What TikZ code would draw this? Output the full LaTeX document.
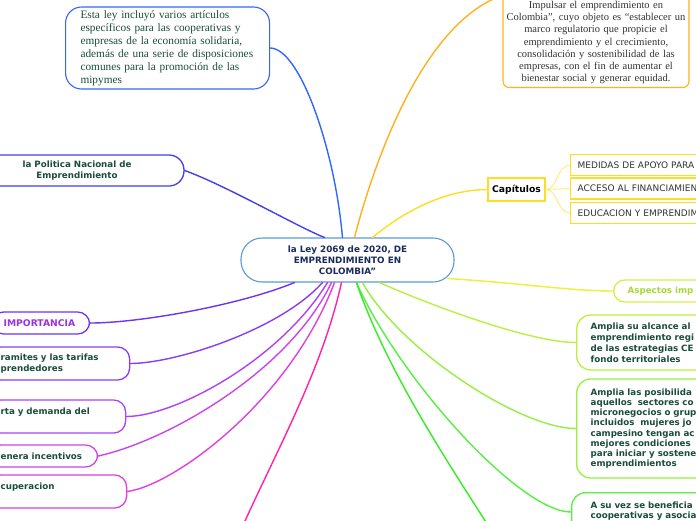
\documentclass[tikz,border=0pt]{standalone}
\usepackage{fontspec}
\setmainfont{Liberation Serif}
\newfontfamily\vsans{DejaVu Sans}
\usetikzlibrary{calc}
\definecolor{txtgreen}{HTML}{1B4D3B}
\definecolor{navy}{HTML}{1C2B5C}
\definecolor{cblue}{HTML}{5B9BD5}
\definecolor{cA}{HTML}{3366FF}
\definecolor{cB}{HTML}{4040EE}
\definecolor{cC}{HTML}{6A36F5}
\definecolor{cD}{HTML}{8A3CF5}
\definecolor{cE}{HTML}{AE42F5}
\definecolor{cF}{HTML}{CC44EE}
\definecolor{cG}{HTML}{E040E0}
\definecolor{cH}{HTML}{FF22AA}
\definecolor{cOr}{HTML}{FFB21E}
\definecolor{cYe}{HTML}{FFDD22}
\definecolor{cYeL}{HTML}{FFEA80}
\definecolor{cAsp}{HTML}{EEF035}
\definecolor{cAspB}{HTML}{D2F04A}
\definecolor{cAspT}{HTML}{A8D838}
\definecolor{cR1}{HTML}{BBF040}
\definecolor{cR2}{HTML}{96F040}
\definecolor{cR3}{HTML}{55F040}
\definecolor{cR4}{HTML}{33EE22}
\definecolor{impT}{HTML}{9933DD}
\definecolor{dgray}{HTML}{333333}
\begin{document}
\begin{tikzpicture}[x=1pt,y=-1pt,
  bfont/.style={font=\vsans\bfseries\fontsize{8.7}{11}\selectfont},
  conn/.style={line width=1.4pt, line cap=round},
  subconn/.style={line width=0.9pt, draw=cYeL},
  lnode/.style={draw=#1, line width=1.3pt, fill=white, rounded corners=12pt,
    anchor=west, inner xsep=12pt, inner ysep=2pt, align=left, bfont, text=txtgreen},
  rnode/.style={draw=#1, line width=1.3pt, fill=white, rounded corners=14pt,
    anchor=west, inner xsep=14pt, inner ysep=2pt, text width=150pt, align=left, bfont, text=txtgreen},
  subbox/.style={draw=cYe, line width=1.3pt, fill=white, anchor=west, text width=150pt,
    inner xsep=7pt, inner ysep=2pt, minimum height=21pt, align=left,
    font=\vsans\fontsize{9}{10}\selectfont, text=dgray}
]
\useasboundingbox (0,0) rectangle (696,520);
\clip (0,0) rectangle (696,520);
\fill[white] (0,0) rectangle (696,520);

% central node
\node[draw=cblue, line width=1.1pt, fill=white, rounded corners=21pt, minimum width=213pt,
  minimum height=44pt, inner sep=2pt, align=center,
  font=\vsans\bfseries\fontsize{8.8}{11}\selectfont, text=navy] (c) at (347.5,260)
  {la Ley 2069 de 2020, DE\\EMPRENDIMIENTO EN\\COLOMBIA”};

% top-left
\node[draw=cA, line width=1.1pt, fill=white, rounded corners=16pt, anchor=west,
  text width=174pt, inner xsep=15pt, inner ysep=2pt, minimum height=82pt, align=left,
  font=\fontsize{11.3}{13}\selectfont, text=txtgreen] (tl) at (65,48)
  {\mbox{Esta ley incluyó varios artículos}\\\mbox{específicos para las cooperativas y}\\\mbox{empresas de la economía solidaria,}\\\mbox{además de una serie de disposiciones}\\\mbox{comunes para la promoción de las}\\\mbox{mipymes}};

% top-right
\node[draw=cOr, line width=1.1pt, fill=white, rounded corners=6pt, anchor=south,
  text width=180pt, inner xsep=3pt, inner ysep=3.5pt, align=center,
  font=\fontsize{10.5}{12.2}\selectfont, text=dgray] (ob) at (596,88)
  {\rule{0pt}{45pt}Impulsar el emprendimiento en\\Colombia”, cuyo objeto es “establecer un\\marco regulatorio que propicie el\\emprendimiento y el crecimiento,\\consolidación y sostenibilidad de las\\empresas, con el fin de aumentar el\\bienestar social y generar equidad.};

% la Politica
\node[draw=cB, line width=1.3pt, fill=white, rounded corners=15pt, minimum width=214pt,
  minimum height=31pt, inner sep=2pt, align=center, bfont, text=txtgreen] (lp) at (77,170.5)
  {la Politica Nacional de\\Emprendimiento};

% Capitulos
\node[draw=cYe, line width=1.3pt, fill=white, minimum width=57pt, minimum height=23pt,
  inner sep=2pt, font=\vsans\bfseries\fontsize{9.2}{11}\selectfont, text=black] (cap) at (516.5,189.5) {Capítulos};
\node[subbox] (s1) at (570,165) {MEDIDAS DE APOYO PARA};
\node[subbox] (s2) at (570,188.5) {ACCESO AL FINANCIAMIEN};
\node[subbox] (s3) at (570,213) {EDUCACION Y EMPRENDIM};

% right nodes
\node[draw=cAspB, line width=1.3pt, fill=white, rounded corners=11pt, anchor=west,
  text width=100pt, inner xsep=14pt, inner ysep=2pt, minimum height=22pt, align=left,
  bfont, text=cAspT] (asp) at (613,291) {Aspectos imp};
\node[rnode=cR1, minimum height=55pt] (r1) at (576,342.5)
  {Amplia su alcance al\\emprendimiento regi\\de las estrategias CE\\fondo territoriales};
\node[rnode=cR2, minimum height=99pt, font=\vsans\bfseries\fontsize{8.7}{10.2}\selectfont] (r2) at (576,428.5)
  {Amplia las posibilida\\aquellos\ \ sectores co\\micronegocios o grup\\incluidos\ \ mujeres jo\\campesino tengan ac\\mejores condiciones\\para iniciar y sostene\\emprendimientos};
\node[rnode=cR3, anchor=north west, inner xsep=19pt, inner ysep=9.5pt, font=\vsans\bfseries\fontsize{8.7}{10}\selectfont] (r3) at (571,492)
  {A su vez se beneficia\\cooperativas y asocia\rule[-40pt]{0pt}{0pt}};

% left nodes
\node[lnode=cC, text width=74pt, minimum height=22pt, text=impT,
  font=\vsans\bfseries\fontsize{9.2}{11}\selectfont] (imp) at (-9,323) {IMPORTANCIA};
\node[lnode=cD, text width=117pt, minimum height=33pt] (tra) at (-12,363.5)
  {\mbox{ramites y las tarifas}\\\mbox{prendedores}};
\node[lnode=cE, text width=113pt, minimum height=33pt] (dem) at (-12,416.5)
  {\mbox{rta y demanda del}\\\mbox{}};
\node[lnode=cF, text width=85pt, minimum height=22pt] (inc) at (-12,456)
  {\mbox{enera incentivos}};
\node[lnode=cG, text width=114pt, minimum height=33pt] (rec) at (-12,491.5)
  {\mbox{cuperacion}\\\mbox{}};

% free ends of off-canvas branches
\coordinate (pk) at (228,560);
\coordinate (gb) at (510,560);

% connectors
\draw[conn, cA] ($(c.north west)+(102,0)$) .. controls (335,150) and (300,48) .. (tl.east);
\draw[conn, cB] ($(c.north west)+(84,0)$) .. controls (300,228) and (225,185) .. (lp.east);
\draw[conn, cOr] ($(c.north west)+(114,0)$) .. controls (380,140) and (430,20) .. ($(ob.north west)!0.28!(ob.south west)$);
\draw[conn, cYe] ($(c.north west)+(132,0)$) .. controls (400,215) and (440,190) .. (cap.west);
\draw[subconn] (cap.east) .. controls (558,189.5) and (557,165) .. (s1.west);
\draw[subconn] (cap.east) -- (s2.west);
\draw[subconn] (cap.east) .. controls (558,189.5) and (557,213) .. (s3.west);

\draw[conn, cC] ($(c.south west)+(54,0)$) .. controls (240,305) and (140,323) .. (imp.east);
\draw[conn, cD] ($(c.south west)+(82,0)$) .. controls (280,330) and (175,363.5) .. (tra.east);
\draw[conn, cE] ($(c.south west)+(87,0)$) .. controls (280,360) and (175,416.5) .. (dem.east);
\draw[conn, cF] ($(c.south west)+(91,0)$) .. controls (290,370) and (170,440) .. (inc.east);
\draw[conn, cG] ($(c.south west)+(94,0)$) .. controls (290,400) and (175,485) .. (rec.east);
\draw[conn, cH] ($(c.south west)+(101,0)$) .. controls (320,380) and (265,470) .. (pk);

\draw[conn, cAsp] ($(c.south east)+(-7,-4)$) .. controls (520,283) and (570,291) .. (asp.west);
\draw[conn, cR1] ($(c.south west)+(139,0)$) .. controls (430,305) and (530,342.5) .. (r1.west);
\draw[conn, cR2] ($(c.south west)+(122,0)$) .. controls (400,350) and (520,428.5) .. (r2.west);
\draw[conn, cR3] ($(c.south west)+(116,0)$) .. controls (400,380) and (520,512) .. ($(r3.north west)+(0,20)$);
\draw[conn, cR4] ($(c.south west)+(116,0)$) .. controls (390,380) and (460,480) .. (gb);
\end{tikzpicture}
\end{document}
